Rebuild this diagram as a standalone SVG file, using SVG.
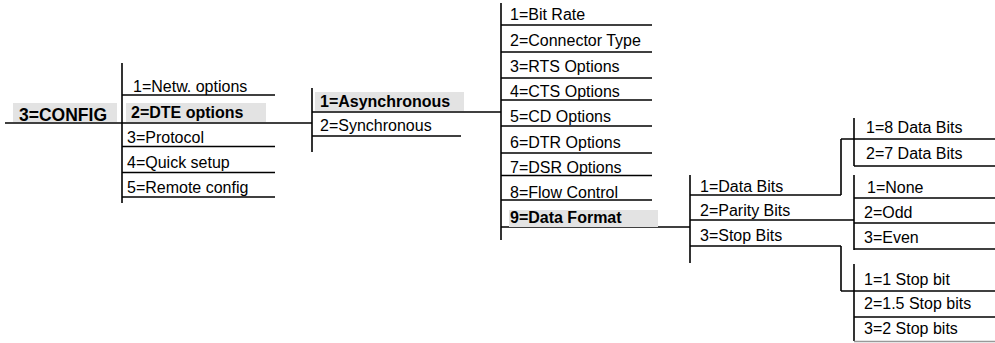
<svg xmlns="http://www.w3.org/2000/svg" width="995" height="343" viewBox="0 0 995 343">
<style>
text{font-family:"Liberation Sans",Arial,sans-serif;font-size:16px;fill:#000}
.b{font-weight:bold}
line{stroke:#000;stroke-width:1.6}
.hl{fill:#e3e3e3}
</style>
<rect width="995" height="343" fill="#fff"/>
<g id="connectors">
<line x1="5" y1="123" x2="312" y2="123"/>
<line x1="122" y1="63" x2="122" y2="203"/>
<line x1="312" y1="112" x2="501" y2="112"/>
<line x1="312" y1="88" x2="312" y2="152"/>
<line x1="501" y1="227" x2="690" y2="227"/>
<line x1="501" y1="3" x2="501" y2="240"/>
<line x1="690" y1="175" x2="690" y2="263"/>
<line x1="841" y1="139" x2="841" y2="195"/>
<line x1="841" y1="246" x2="841" y2="291"/>
<line x1="854" y1="118" x2="854" y2="166"/>
<line x1="854" y1="175" x2="854" y2="250"/>
<line x1="854" y1="264" x2="854" y2="341"/>
</g>
<g id="n-config"><rect class="hl" x="13" y="103" width="104" height="19"/><text class="b" x="19" y="121" style="font-size:17.5px">3=CONFIG</text></g>
<g id="n-netw"><text x="133" y="92">1=Netw. options</text><line x1="122" y1="95" x2="275" y2="95"/></g>
<g id="n-dte"><rect class="hl" x="126" y="103" width="140" height="19"/><text class="b" x="131" y="118">2=DTE options</text></g>
<g id="n-protocol"><text x="127" y="143">3=Protocol</text><line x1="122" y1="146.5" x2="275" y2="146.5"/></g>
<g id="n-quick"><text x="127" y="168">4=Quick setup</text><line x1="122" y1="172.5" x2="275" y2="172.5"/></g>
<g id="n-remote"><text x="127" y="193">5=Remote config</text><line x1="122" y1="197" x2="275" y2="197"/></g>
<g id="n-async"><rect class="hl" x="315" y="92" width="149" height="19"/><text class="b" x="320" y="107">1=Asynchronous</text></g>
<g id="n-sync"><text x="320" y="131">2=Synchronous</text><line x1="312" y1="136" x2="461" y2="136"/></g>
<g id="n-bitrate"><text x="510" y="20">1=Bit Rate</text><line x1="501" y1="25" x2="652" y2="25"/></g>
<g id="n-conn"><text x="510" y="46">2=Connector Type</text><line x1="501" y1="52" x2="652" y2="52"/></g>
<g id="n-rts"><text x="510" y="72">3=RTS Options</text><line x1="501" y1="78" x2="652" y2="78"/></g>
<g id="n-cts"><text x="510" y="97">4=CTS Options</text><line x1="501" y1="100" x2="652" y2="100"/></g>
<g id="n-cd"><text x="510" y="122">5=CD Options</text><line x1="501" y1="126" x2="652" y2="126"/></g>
<g id="n-dtr"><text x="510" y="148">6=DTR Options</text><line x1="501" y1="153" x2="652" y2="153"/></g>
<g id="n-dsr"><text x="510" y="173">7=DSR Options</text><line x1="501" y1="175.5" x2="652" y2="175.5"/></g>
<g id="n-flow"><text x="510" y="198">8=Flow Control</text><line x1="501" y1="200" x2="652" y2="200"/></g>
<g id="n-dataformat"><rect class="hl" x="509" y="210" width="149" height="17"/><text class="b" x="510" y="223">9=Data Format</text></g>
<g id="n-databits"><text x="700" y="192">1=Data Bits</text><line x1="690" y1="195" x2="841" y2="195"/></g>
<g id="n-parity"><text x="700" y="216">2=Parity Bits</text><line x1="690" y1="220" x2="854" y2="220"/></g>
<g id="n-stopbits"><text x="700" y="241">3=Stop Bits</text><line x1="690" y1="246" x2="841" y2="246"/></g>
<g id="n-8bits"><text x="866" y="133">1=8 Data Bits</text><line x1="841" y1="139" x2="995" y2="139"/></g>
<g id="n-7bits"><text x="866" y="159">2=7 Data Bits</text><line x1="854" y1="166" x2="995" y2="166"/></g>
<g id="n-none"><text x="867" y="193">1=None</text><line x1="854" y1="198" x2="995" y2="198"/></g>
<g id="n-odd"><text x="864" y="218">2=Odd</text><line x1="854" y1="223" x2="995" y2="223"/></g>
<g id="n-even"><text x="864" y="243">3=Even</text><line x1="854" y1="249" x2="995" y2="249"/></g>
<g id="n-stop1"><text x="864" y="285">1=1 Stop bit</text><line x1="841" y1="291" x2="995" y2="291"/></g>
<g id="n-stop15"><text x="864" y="309">2=1.5 Stop bits</text><line x1="854" y1="317" x2="995" y2="317"/></g>
<g id="n-stop2"><text x="864" y="334">3=2 Stop bits</text><line x1="854" y1="341.5" x2="995" y2="341.5" style="stroke:#999"/></g>
</svg>
